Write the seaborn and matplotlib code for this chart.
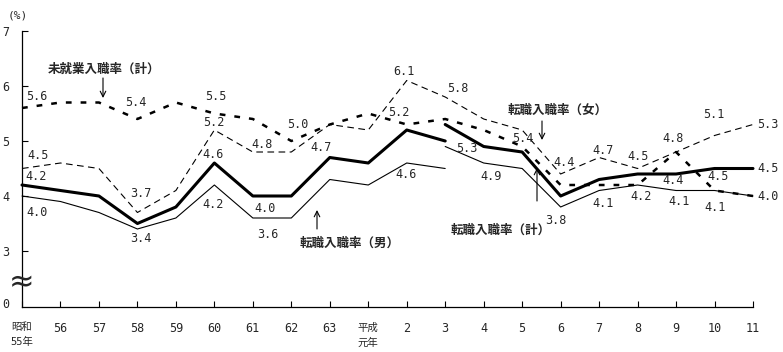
import numpy as np
import pandas as pd
import matplotlib
matplotlib.use("Agg")
import matplotlib.pyplot as plt
import seaborn as sns

# ---------------- data ----------------
years = ["昭和\n55年", "56", "57", "58", "59", "60", "61", "62", "63", "平成\n元年",
         "2", "3", "4", "5", "6", "7", "8", "9", "10", "11"]
unemployed_total = [5.6, 5.7, 5.7, 5.4, 5.7, 5.5, 5.4, 5.0, 5.3, 5.5,
                    5.3, 5.4, 5.2, 4.9, 4.2, 4.2, 4.2, 4.8, 4.1, 4.0]
change_total_old = [4.2, 4.1, 4.0, 3.5, 3.8, 4.6, 4.0, 4.0, 4.7, 4.6, 5.2, 5.0]
change_total_new = [5.3, 4.9, 4.8, 4.0, 4.3, 4.4, 4.4, 4.5, 4.5]
change_male_old = [4.0, 3.9, 3.7, 3.4, 3.6, 4.2, 3.6, 3.6, 4.3, 4.2, 4.6, 4.5]
change_male_new = [4.9, 4.6, 4.5, 3.8, 4.1, 4.2, 4.1, 4.1, 4.0]
change_female = [4.5, 4.6, 4.5, 3.7, 4.1, 5.2, 4.8, 4.8, 5.3, 5.2,
                 6.1, 5.8, 5.4, 5.2, 4.4, 4.7, 4.5, 4.8, 5.1, 5.3]
yticks = [3, 4, 5, 6, 7]
break_index = 11  # 平成3年: survey change

# ---------------- setup ----------------
sns.set_style("ticks")
plt.rcParams['font.family'] = ['DejaVu Sans Mono', 'Noto Sans CJK JP']
W, H = 783, 352
fig = plt.figure(figsize=(W / 100, H / 100), dpi=100)
ax = fig.add_axes([22 / W, 1 - 307 / H, (753 - 22) / W, (307 - 31) / H])

pos_all = np.arange(len(years))
pos_old = pos_all[:break_index + 1]
pos_new = pos_all[break_index:]

series = {
    "unemp": (pos_all, unemployed_total),
    "tot_old": (pos_old, change_total_old),
    "tot_new": (pos_new, change_total_new),
    "male_old": (pos_old, change_male_old),
    "male_new": (pos_new, change_male_new),
    "female": (pos_all, change_female),
}
styles = {
    "unemp": dict(linewidth=1.8, linestyle=(0, (2.3, 3.6))),
    "tot_old": dict(linewidth=2.2, linestyle="-"),
    "tot_new": dict(linewidth=2.2, linestyle="-"),
    "male_old": dict(linewidth=0.8, linestyle="-"),
    "male_new": dict(linewidth=0.8, linestyle="-"),
    "female": dict(linewidth=0.8, linestyle=(0, (6, 4))),
}
for key, (px, vals) in series.items():
    df = pd.DataFrame({"x": px, "y": vals})
    sns.lineplot(data=df, x="x", y="y", ax=ax, color="black", errorbar=None,
                 sort=False, clip_on=False, **styles[key])

# ---------------- axes ----------------
ax.set_xlim(0, len(years) - 1)
ybottom = 7 - (307 - 31) / 55
ax.set_ylim(ybottom, 7)
ax.set_xticks(pos_all)
ax.set_xticklabels(years)
for lab in ax.get_xticklabels():
    if any(ord(c) > 255 for c in lab.get_text()):
        lab.set_fontsize(7.5)
        lab.set_linespacing(1.6)
    else:
        lab.set_fontsize(8.5)
ax.set_yticks([ybottom + 0.07] + yticks)
ax.set_yticklabels(["0"] + [str(t) for t in yticks], fontsize=8.5)
ax.yaxis.get_major_ticks()[0].tick1line.set_visible(False)
ax.tick_params(axis="both", direction="in", length=4, width=0.8, color="black")
ax.tick_params(axis="x", pad=11)
ax.tick_params(axis="y", pad=9)
for s in ["top", "right"]:
    ax.spines[s].set_visible(False)
for s in ["left", "bottom"]:
    ax.spines[s].set_linewidth(0.9)
    ax.spines[s].set_color("black")
ax.set_xlabel("")
ax.set_ylabel("")

# axis break mark
ax.text(0, 7 - (283 - 31) / 55, "≈", fontsize=22, ha="center", va="center",
        family="DejaVu Sans", clip_on=False)
fig.text(18 / W, 1 - 15 / H, "(%)", fontsize=8, ha="center", va="center")

# ---------------- value labels ----------------
# (series, index within that series, dx px, dy px [image down = +])
labels = [
    ("unemp", 0, 15, -12), ("unemp", 3, -2, -16), ("unemp", 5, 1, -17),
    ("unemp", 7, 6, -17),
    ("female", 0, 16, -13), ("female", 3, 3, -19), ("female", 5, -1, -8),
    ("female", 6, 9, -8), ("female", 10, -3, -9), ("female", 11, 13, -8),
    ("female", 12, 39, 20), ("female", 14, 3, -11), ("female", 15, 4, -7),
    ("female", 16, 0, -12), ("female", 17, -3, -14), ("female", 18, -1, -21),
    ("female", 19, 15, 0),
    ("tot_old", 0, 14, -8), ("tot_old", 5, -1, -9), ("tot_old", 6, 12, 12),
    ("tot_old", 8, -9, -10), ("tot_old", 10, -8, -17),
    ("tot_new", 0, 22, 24), ("tot_new", 1, 7, 30), ("tot_new", 6, -3, 7),
    ("tot_new", 7, 4, 8), ("tot_new", 8, 15, 0),
    ("male_old", 0, 15, 16), ("male_old", 3, 3, 9), ("male_old", 5, -1, 19),
    ("male_old", 6, 15, 16), ("male_old", 10, -1, 12),
    ("male_new", 3, -5, 14), ("male_new", 4, 4, 13), ("male_new", 5, 3, 12),
    ("male_new", 6, 3, 11), ("male_new", 7, 1, 17), ("male_new", 8, 15, 1),
]
for key, idx, dx, dy in labels:
    px, vals = series[key]
    ax.annotate(f"{vals[idx]:.1f}", xy=(px[idx], vals[idx]), xytext=(dx, -dy),
                textcoords="offset pixels", ha="center", va="center",
                fontsize=8.5, annotation_clip=False)

# ---------------- series names with arrows ----------------
def fpt(x, y):
    return (x / W, 1 - y / H)

name_kw = dict(fontsize=9, fontweight="bold", family=["Noto Sans CJK JP"],
               ha="center", va="center")
arrow_kw = dict(arrowstyle="->", lw=0.8, color="black", shrinkA=0, shrinkB=0)

fig.text(*fpt(104, 69), "未就業入職率（計）", **name_kw)
ax.annotate("", xy=fpt(103, 98), xytext=fpt(103, 78), xycoords="figure fraction",
            textcoords="figure fraction", arrowprops=arrow_kw)

fig.text(*fpt(558, 110), "転職入職率（女）", **name_kw)
ax.annotate("", xy=fpt(542, 140), xytext=fpt(542, 121), xycoords="figure fraction",
            textcoords="figure fraction", arrowprops=arrow_kw)

fig.text(*fpt(501, 230), "転職入職率（計）", **name_kw)
ax.annotate("", xy=fpt(537, 168), xytext=fpt(537, 201), xycoords="figure fraction",
            textcoords="figure fraction", arrowprops=arrow_kw)

fig.text(*fpt(350, 243), "転職入職率（男）", **name_kw)
ax.annotate("", xy=fpt(317, 210), xytext=fpt(317, 229), xycoords="figure fraction",
            textcoords="figure fraction", arrowprops=arrow_kw)

fig.savefig("out.png", dpi=100)
